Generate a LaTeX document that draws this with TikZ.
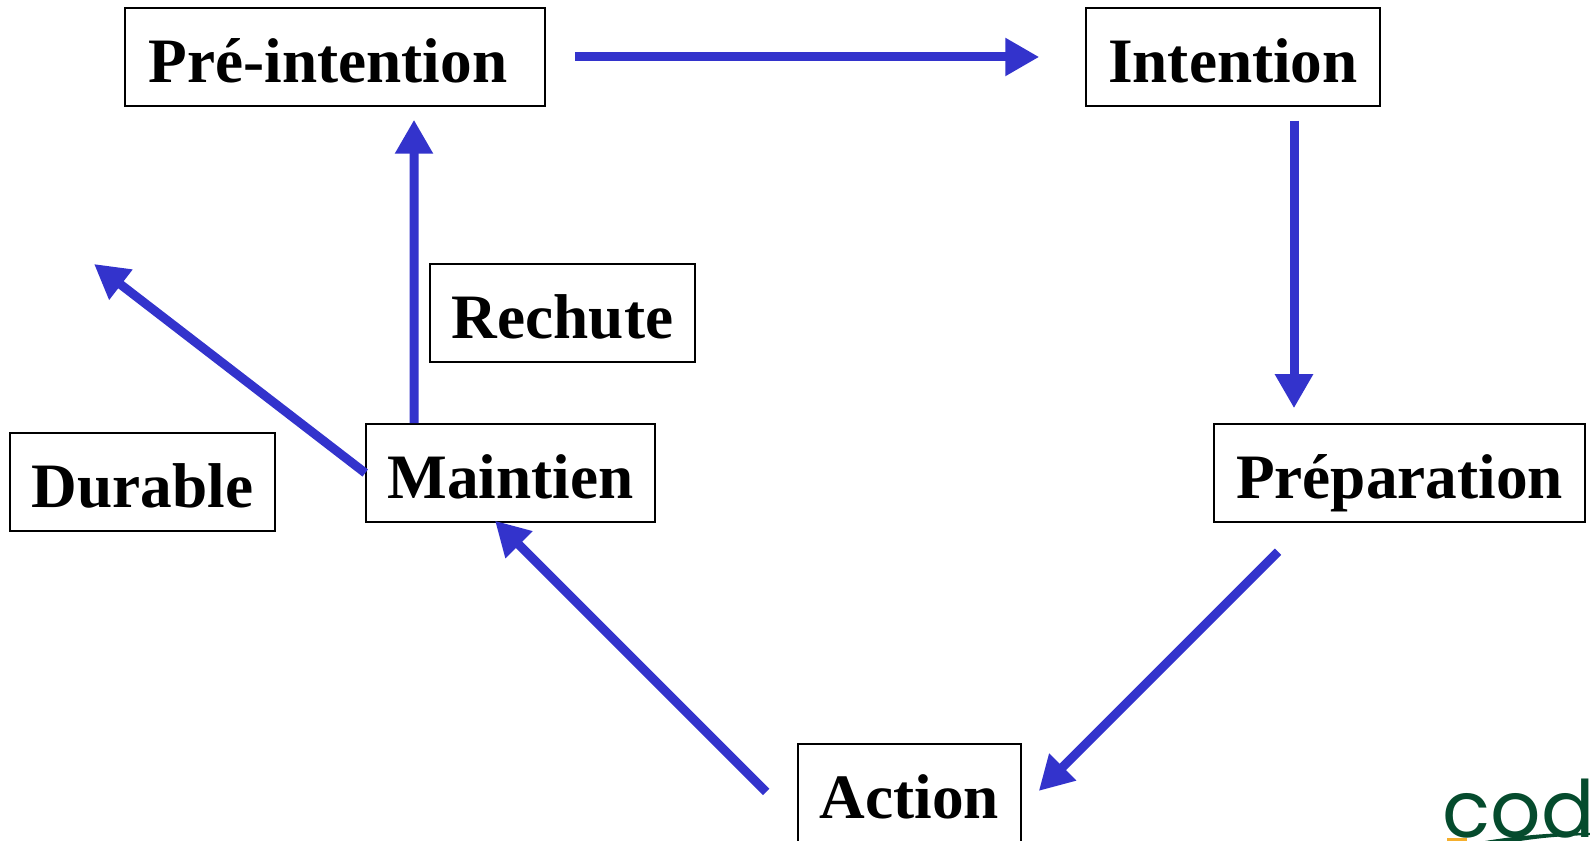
\documentclass[tikz,border=0pt]{standalone}
\usepackage{fontspec}
\setmainfont{Liberation Serif}
\newfontfamily\logofont{Poppins}
\usetikzlibrary{arrows.meta, calc}
\definecolor{flow}{RGB}{51,51,204}
\definecolor{logogreen}{RGB}{5,75,45}
\definecolor{logoorange}{RGB}{245,175,45}
\tikzset{
  stage/.style={draw=black, line width=0.015cm, fill=white, inner sep=0pt, text height=0.75cm, text depth=0.23cm, font=\bfseries\fontsize{18pt}{20pt}\selectfont},
  flowline/.style={draw=flow, line width=0.09cm, -{Triangle[length=0.34cm,width=0.36cm]}}
}

\begin{document}
\begin{tikzpicture}
\useasboundingbox (0,0) rectangle (15.9,8.41);

\node [stage, minimum width=4.20cm] (pre) at (3.35,7.84) {Pré-intention\kern0.14cm\relax};
\node [stage, minimum width=2.94cm] (intention) at (12.33,7.84) {Intention};
\node [stage, minimum width=2.65cm] (rechute) at (5.625,5.28) {Rechute};
\node [stage, minimum width=2.89cm] (maintien) at (5.105,3.68) {Maintien};
\node [stage, minimum width=2.65cm] (durable) at (1.425,3.59) {Durable};
\node [stage, minimum width=3.71cm] (preparation) at (13.995,3.68) {Préparation};
\node [stage, minimum width=2.23cm] (action) at (9.095,0.48) {Action};

\coordinate (free) at (0.94,5.77); % no box at this end

\draw [flowline, shorten <=0.29cm, shorten >=0.46cm] (pre.east) -- (intention.west);
\draw [flowline, shorten <=0.14cm, shorten >=0.15cm] ([xshift=0.61cm]intention.south) -- ([xshift=-1.055cm]preparation.north);
\draw [flowline] ([xshift=-1.215cm,yshift=-0.29cm]preparation.south) -- ([xshift=0.17cm,yshift=0.02cm]action.east);
\draw [flowline] ([xshift=-0.31cm,yshift=0.01cm]action.west) -- ([xshift=-0.155cm,yshift=0.02cm]maintien.south);
\draw [flowline, shorten >=0.13cm] ([xshift=-0.965cm]maintien.north) -- ([xshift=0.79cm]pre.south);
\draw [flowline] (maintien.west) -- (free);

% logo, cut by the page edge
\node [logogreen, anchor=base west, inner sep=0pt, font=\logofont\fontsize{22.5pt}{24pt}\selectfont] (logo) at (14.42,0.03) {cod};
\fill [logoorange] (14.47,0) rectangle (14.67,0.03);
\fill [logogreen] (14.85,0) .. controls (15.1,0.04) and (15.5,0.09) .. (15.9,0.08) -- (15.9,0.06) .. controls (15.6,0.05) and (15.4,0.03) .. (15.2,0) -- cycle;

\end{tikzpicture}
\end{document}
